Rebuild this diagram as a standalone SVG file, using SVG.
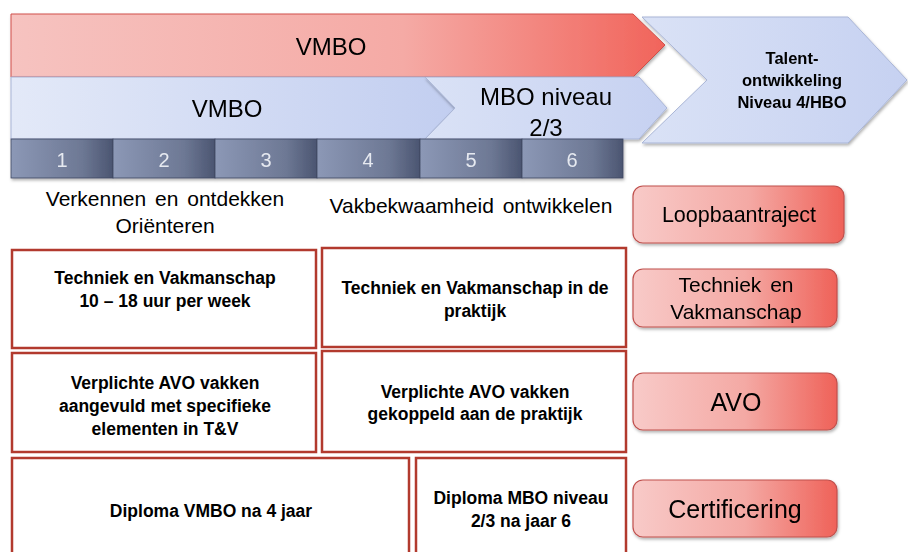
<svg xmlns="http://www.w3.org/2000/svg" width="908" height="552" viewBox="0 0 908 552">
<defs>
<linearGradient id="gRed" x1="0" y1="0" x2="1" y2="0"><stop offset="0" stop-color="#f6c3c0"/><stop offset="0.6" stop-color="#f5aaa5"/><stop offset="1" stop-color="#f1645b"/></linearGradient>
<linearGradient id="gBlue" x1="0" y1="0" x2="1" y2="0"><stop offset="0" stop-color="#e3e9f8"/><stop offset="1" stop-color="#c2cef0"/></linearGradient>
<linearGradient id="gBlue2" x1="0" y1="0" x2="1" y2="0"><stop offset="0" stop-color="#dae2f6"/><stop offset="1" stop-color="#c6d1f1"/></linearGradient>
<linearGradient id="gCell" x1="0" y1="0" x2="1" y2="0"><stop offset="0" stop-color="#8c98b6"/><stop offset="0.7" stop-color="#6d7894"/><stop offset="1" stop-color="#4b5571"/></linearGradient>
<linearGradient id="gPill" x1="0" y1="0" x2="1" y2="0"><stop offset="0" stop-color="#f8cac8"/><stop offset="0.55" stop-color="#f4a9a4"/><stop offset="1" stop-color="#ef6259"/></linearGradient>
<filter id="sh" x="-5%" y="-10%" width="110%" height="130%"><feDropShadow dx="1" dy="2" stdDeviation="1.5" flood-color="#000" flood-opacity="0.3"/></filter>
</defs>
<style>
text{font-family:"Liberation Sans",Arial,sans-serif;fill:#000;text-anchor:middle}
.big{font-size:24px}
.mid{font-size:21px}
.bx{font-size:17.5px;font-weight:bold}
.tl{font-size:16.5px;font-weight:bold}
.num{font-size:20px;fill:#e6e9f0}
.box{fill:#fff;stroke:#b23a2e;stroke-width:2.5}
.pill{fill:url(#gPill);stroke:#c0504d;stroke-width:1.2}
.cell{fill:url(#gCell);stroke:#3e4760;stroke-width:0.8}
</style>

<g id="vmbo-red" filter="url(#sh)">
<polygon points="11,14 633,14 665,45 633,77 11,77" fill="url(#gRed)" stroke="#d0504a" stroke-width="1"/>
<text class="big" x="331" y="55">VMBO</text>
</g>
<g id="vmbo-blue" filter="url(#sh)">
<polygon points="11,77 425,77 455,108 425,139 11,139" fill="url(#gBlue)" stroke="#a9b5d6" stroke-width="1"/>
<text class="big" x="227" y="117">VMBO</text>
</g>
<g id="mbo" filter="url(#sh)">
<polygon points="425,77 639,77 667,108 639,139 425,139 455,108" fill="url(#gBlue2)" stroke="#a9b5d6" stroke-width="1"/>
<text class="big" x="546" y="105">MBO niveau</text>
<text class="big" x="546" y="136">2/3</text>
</g>
<g id="talent" filter="url(#sh)">
<polygon points="642,17 848,17 907,80 848,143 642,143 707,80" fill="url(#gBlue2)" stroke="#a9b5d6" stroke-width="1"/>
<text class="tl" x="792" y="64">Talent-</text>
<text class="tl" x="792" y="86">ontwikkeling</text>
<text class="tl" x="792" y="108">Niveau 4/HBO</text>
</g>

<g id="years" filter="url(#sh)">
<rect class="cell" x="11" y="139" width="102" height="39"/>
<rect class="cell" x="113" y="139" width="102" height="39"/>
<rect class="cell" x="215" y="139" width="102" height="39"/>
<rect class="cell" x="317" y="139" width="103" height="39"/>
<rect class="cell" x="420" y="139" width="102" height="39"/>
<rect class="cell" x="522" y="139" width="101" height="39"/>
<text class="num" x="62" y="167">1</text>
<text class="num" x="164" y="167">2</text>
<text class="num" x="266" y="167">3</text>
<text class="num" x="368" y="167">4</text>
<text class="num" x="471" y="167">5</text>
<text class="num" x="572" y="167">6</text>
</g>

<g id="phase1">
<text class="mid" x="165" y="206" word-spacing="3">Verkennen en ontdekken</text>
<text class="mid" x="165" y="233">Oriënteren</text>
</g>
<g id="phase2">
<text class="mid" x="471" y="213" word-spacing="3">Vakbekwaamheid ontwikkelen</text>
</g>

<g id="box-tv1"><rect class="box" x="12" y="250" width="304" height="98"/>
<text class="bx" x="165" y="284">Techniek en Vakmanschap</text>
<text class="bx" x="165" y="307">10 – 18 uur per week</text></g>
<g id="box-tv2"><rect class="box" x="322" y="248" width="304" height="99"/>
<text class="bx" x="475" y="294">Techniek en Vakmanschap in de</text>
<text class="bx" x="475" y="317">praktijk</text></g>
<g id="box-avo1"><rect class="box" x="12" y="353" width="304" height="99"/>
<text class="bx" x="165" y="389">Verplichte AVO vakken</text>
<text class="bx" x="165" y="412">aangevuld met specifieke</text>
<text class="bx" x="165" y="435">elementen in T&amp;V</text></g>
<g id="box-avo2"><rect class="box" x="322" y="351" width="304" height="101"/>
<text class="bx" x="475" y="398">Verplichte AVO vakken</text>
<text class="bx" x="475" y="420">gekoppeld aan de praktijk</text></g>
<g id="box-cert1"><rect class="box" x="12" y="458" width="397" height="100"/>
<text class="bx" x="211" y="517">Diploma VMBO na 4 jaar</text></g>
<g id="box-cert2"><rect class="box" x="416" y="458" width="210" height="100"/>
<text class="bx" x="521" y="504">Diploma MBO niveau</text>
<text class="bx" x="521" y="527">2/3 na jaar 6</text></g>

<g id="pill-loop" filter="url(#sh)"><rect class="pill" x="633" y="186" width="211" height="57" rx="10"/>
<text class="mid" x="739" y="222" style="font-size:21.5px">Loopbaantraject</text></g>
<g id="pill-tv" filter="url(#sh)"><rect class="pill" x="633" y="269" width="204" height="58" rx="10"/>
<text class="mid" x="736" y="292" word-spacing="3">Techniek en</text>
<text class="mid" x="736" y="319">Vakmanschap</text></g>
<g id="pill-avo" filter="url(#sh)"><rect class="pill" x="633" y="373" width="204" height="57" rx="10"/>
<text class="mid" x="736" y="411" style="font-size:25px">AVO</text></g>
<g id="pill-cert" filter="url(#sh)"><rect class="pill" x="633" y="480" width="204" height="57" rx="10"/>
<text class="mid" x="735" y="518" style="font-size:25px">Certificering</text></g>
</svg>
